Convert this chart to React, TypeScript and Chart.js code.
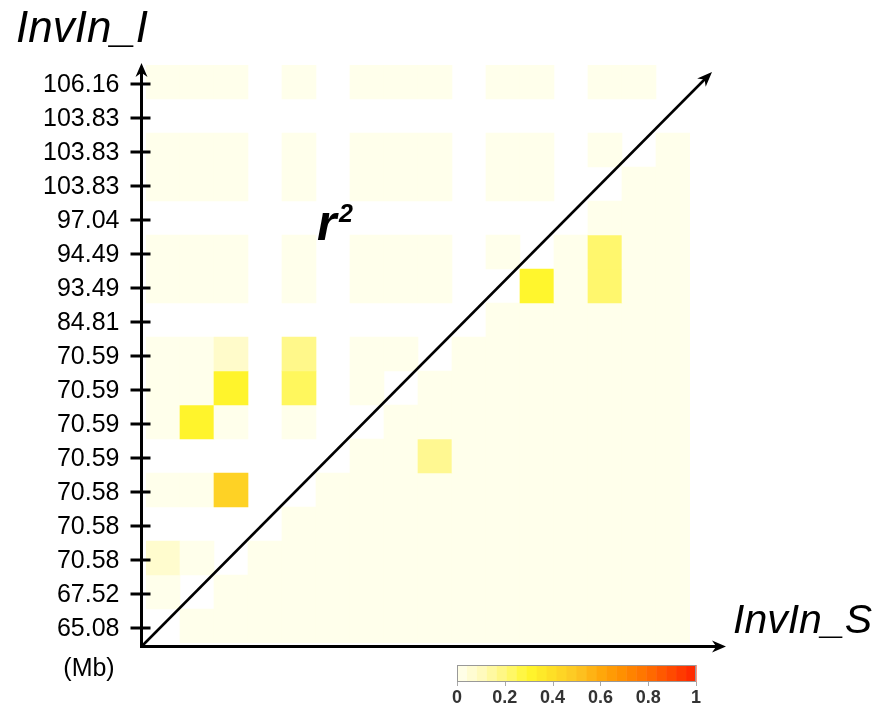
import React, { useEffect, useRef } from "react";
import { Chart, registerables } from "chart.js";

Chart.register(...registerables);

// Row labels (positions, Mb), top to bottom
const yLabels = [
  "106.16", "103.83", "103.83", "103.83", "97.04", "94.49", "93.49", "84.81",
  "70.59", "70.59", "70.59", "70.59", "70.58", "70.58", "70.58", "67.52", "65.08",
];

// Column slots along the x axis (no tick labels drawn)
const xSlots = ["1", "2", "3", "4", "5", "6", "7", "8", "9", "10", "11", "12", "13", "14", "15", "16"];

const n = null;
// r² values, one row per y label (top to bottom), null = not available (white)
const row01 = [0.01, 0.01, 0.01, n, 0.01, n, 0.01, 0.01, 0.01, n, 0.01, 0.01, n, 0.01, 0.01, n];
const row02 = [n, n, n, n, n, n, n, n, n, n, n, n, n, n, n, n];
const row03 = [0.01, 0.01, 0.01, n, 0.01, n, 0.01, 0.01, 0.01, n, 0.01, 0.01, n, 0.01, n, 0.01];
const row04 = [0.01, 0.01, 0.01, n, 0.01, n, 0.01, 0.01, 0.01, n, 0.01, 0.01, n, n, 0.01, 0.01];
const row05 = [n, n, n, n, n, n, n, n, n, n, n, n, n, 0.01, 0.01, 0.01];
const row06 = [0.01, 0.01, 0.01, n, 0.01, n, 0.01, 0.01, 0.01, n, 0.01, n, 0.01, 0.22, 0.01, 0.01];
const row07 = [0.01, 0.01, 0.01, n, 0.01, n, 0.01, 0.01, 0.01, n, n, 0.3, 0.01, 0.22, 0.01, 0.01];
const row08 = [n, n, n, n, n, n, n, n, n, n, 0.01, 0.01, 0.01, 0.01, 0.01, 0.01];
const row09 = [0.01, 0.01, 0.08, n, 0.18, n, 0.01, 0.01, n, 0.01, 0.01, 0.01, 0.01, 0.01, 0.01, 0.01];
const row10 = [0.01, 0.01, 0.31, n, 0.24, n, 0.01, n, 0.01, 0.01, 0.01, 0.01, 0.01, 0.01, 0.01, 0.01];
const row11 = [0.01, 0.31, 0.01, n, 0.01, n, n, 0.01, 0.01, 0.01, 0.01, 0.01, 0.01, 0.01, 0.01, 0.01];
const row12 = [n, n, n, n, n, n, 0.01, 0.01, 0.17, 0.01, 0.01, 0.01, 0.01, 0.01, 0.01, 0.01];
const row13 = [0.01, 0.01, 0.45, n, n, 0.01, 0.01, 0.01, 0.01, 0.01, 0.01, 0.01, 0.01, 0.01, 0.01, 0.01];
const row14 = [n, n, n, n, 0.01, 0.01, 0.01, 0.01, 0.01, 0.01, 0.01, 0.01, 0.01, 0.01, 0.01, 0.01];
const row15 = [0.07, 0.01, n, 0.01, 0.01, 0.01, 0.01, 0.01, 0.01, 0.01, 0.01, 0.01, 0.01, 0.01, 0.01, 0.01];
const row16 = [0.01, n, 0.01, 0.01, 0.01, 0.01, 0.01, 0.01, 0.01, 0.01, 0.01, 0.01, 0.01, 0.01, 0.01, 0.01];
const row17 = [n, 0.01, 0.01, 0.01, 0.01, 0.01, 0.01, 0.01, 0.01, 0.01, 0.01, 0.01, 0.01, 0.01, 0.01, 0.01];

const matrix: (number | null)[][] = [
  row01, row02, row03, row04, row05, row06, row07, row08, row09,
  row10, row11, row12, row13, row14, row15, row16, row17,
];

// Colour bar ticks
const legendTicks = [0, 0.2, 0.4, 0.6, 0.8, 1];

// Colour map (value -> rgb)
const cmapStops: [number, number[]][] = [
  [0.0, [255, 255, 240]],
  [0.1, [255, 250, 192]],
  [0.2, [255, 247, 125]],
  [0.3, [255, 246, 45]],
  [0.4, [254, 222, 38]],
  [0.5, [253, 198, 36]],
  [0.6, [255, 168, 10]],
  [0.7, [255, 140, 0]],
  [0.8, [255, 110, 0]],
  [0.9, [255, 72, 0]],
  [1.0, [255, 35, 0]],
];

function colorFor(v: number): string {
  for (let i = 0; i < cmapStops.length - 1; i++) {
    const [a, ca] = cmapStops[i];
    const [b, cb] = cmapStops[i + 1];
    if (v >= a && v <= b) {
      const t = (v - a) / (b - a);
      const c = ca.map((x, k) => Math.round(x + (cb[k] - x) * t));
      return `rgb(${c[0]},${c[1]},${c[2]})`;
    }
  }
  const c = cmapStops[cmapStops.length - 1][1];
  return `rgb(${c[0]},${c[1]},${c[2]})`;
}

const FONT = '"Liberation Sans", Arial, Helvetica, sans-serif';

function arrowHead(ctx: CanvasRenderingContext2D, x: number, y: number, angle: number, len: number, half: number) {
  ctx.save();
  ctx.translate(x, y);
  ctx.rotate(angle);
  ctx.beginPath();
  ctx.moveTo(0, 0);
  ctx.lineTo(-len, -half);
  ctx.lineTo(-len * 0.7, 0);
  ctx.lineTo(-len, half);
  ctx.closePath();
  ctx.fill();
  ctx.restore();
}

const overlayPlugin = {
  id: "ldOverlay",
  afterDatasetsDraw(chart: any) {
    const ctx: CanvasRenderingContext2D = chart.ctx;
    const { left, right, top, bottom } = chart.chartArea;
    const yScale = chart.scales.y;
    ctx.save();
    ctx.fillStyle = "#000";
    ctx.strokeStyle = "#000";

    const ax = left - 4.5;
    const ay = bottom + 3.5;

    // axes
    ctx.lineWidth = 3;
    ctx.beginPath();
    ctx.moveTo(ax, ay + 1.5);
    ctx.lineTo(ax, top + 4);
    ctx.stroke();
    ctx.beginPath();
    ctx.moveTo(ax - 1.5, ay);
    ctx.lineTo(right + 30, ay);
    ctx.stroke();
    arrowHead(ctx, ax, top - 2, -Math.PI / 2, 14, 6);
    arrowHead(ctx, right + 36, ay, 0, 14, 6);

    // y ticks + labels
    ctx.font = `25px ${FONT}`;
    ctx.textAlign = "right";
    ctx.textBaseline = "middle";
    yLabels.forEach((lab, r) => {
      const py = yScale.getPixelForValue(yLabels.length - 1 - r) + 2;
      ctx.lineWidth = 3;
      ctx.beginPath();
      ctx.moveTo(ax - 11, py);
      ctx.lineTo(ax + 9, py);
      ctx.stroke();
      ctx.fillText(lab, ax - 22, py + 1);
    });

    // (Mb)
    ctx.textAlign = "center";
    ctx.fillText("(Mb)", 81, 661);

    // diagonal
    const tipX = 704;
    const tipY = 64;
    ctx.lineWidth = 2.5;
    ctx.beginPath();
    ctx.moveTo(ax, ay);
    ctx.lineTo(tipX - 6, tipY + 6);
    ctx.stroke();
    arrowHead(ctx, tipX, tipY, Math.atan2(tipY - ay, tipX - ax), 15, 6);

    // axis titles
    ctx.textAlign = "left";
    ctx.textBaseline = "alphabetic";
    ctx.font = `italic 44px ${FONT}`;
    ctx.fillText("InvIn_I", 8, 34);
    ctx.font = `italic 41px ${FONT}`;
    ctx.fillText("InvIn_S", 725, 625);

    // r^2
    ctx.font = `italic bold 50px ${FONT}`;
    ctx.fillText("r", 309, 232);
    ctx.font = `italic bold 25px ${FONT}`;
    ctx.fillText("2", 331, 214);

    // colour bar
    const bx0 = 449, bx1 = 688, by0 = 657, by1 = 674;
    const steps = 24;
    for (let i = 0; i < steps; i++) {
      const v0 = i / steps;
      const v1 = (i + 1) / steps;
      ctx.fillStyle = colorFor((v0 + v1) / 2);
      const x0 = bx0 + (bx1 - bx0) * v0;
      const x1 = bx0 + (bx1 - bx0) * v1;
      ctx.fillRect(x0, by0, x1 - x0 + 0.5, by1 - by0);
    }
    ctx.strokeStyle = "#999";
    ctx.lineWidth = 1;
    ctx.strokeRect(bx0 + 0.5, by0 + 0.5, bx1 - bx0 - 1, by1 - by0 - 1);
    ctx.fillStyle = "#333";
    ctx.font = `bold 18px ${FONT}`;
    ctx.textAlign = "center";
    ctx.textBaseline = "middle";
    legendTicks.forEach((t) => {
      const x = bx0 + (bx1 - bx0) * t;
      ctx.strokeStyle = "#aaa";
      ctx.beginPath();
      ctx.moveTo(Math.round(x) + 0.5, by1);
      ctx.lineTo(Math.round(x) + 0.5, by1 + 4);
      ctx.stroke();
      ctx.fillText(String(t), x, 690);
    });

    ctx.restore();
  },
};

export default function App() {
  const canvasRef = useRef<HTMLCanvasElement | null>(null);

  useEffect(() => {
    const canvas = canvasRef.current;
    if (!canvas) return;
    const nRows = yLabels.length;
    const datasets = matrix.map((row, r) => {
      const yi = nRows - 1 - r;
      return {
        label: yLabels[r],
        data: row.map((v) => (v === null ? null : [yi - 0.5, yi + 0.5])) as any,
        backgroundColor: row.map((v) => (v === null ? "rgba(0,0,0,0)" : colorFor(v))),
        borderWidth: 0,
        grouped: false,
        barPercentage: 1,
        categoryPercentage: 1,
      };
    });

    const W = 864;
    const H = 696;
    const cell = 34;
    const left = 138;
    const top = 57;
    const right = left + cell * xSlots.length;
    const bottom = top + cell * nRows;

    const chart = new Chart(canvas, {
      type: "bar",
      data: { labels: xSlots, datasets },
      options: {
        responsive: false,
        animation: false,
        devicePixelRatio: 1,
        layout: { padding: { left, top, right: W - right, bottom: H - bottom } },
        scales: {
          x: { type: "category", display: false, offset: true },
          y: { type: "linear", display: false, min: -0.5, max: nRows - 0.5 },
        },
        plugins: { legend: { display: false }, tooltip: { enabled: false } },
      },
      plugins: [overlayPlugin],
    } as any);
    return () => chart.destroy();
  }, []);

  return (
    <div style={{ width: 864, height: 696 }}>
      <canvas ref={canvasRef} width={864} height={696} style={{ display: "block", width: 864, height: 696 }} />
    </div>
  );
}
